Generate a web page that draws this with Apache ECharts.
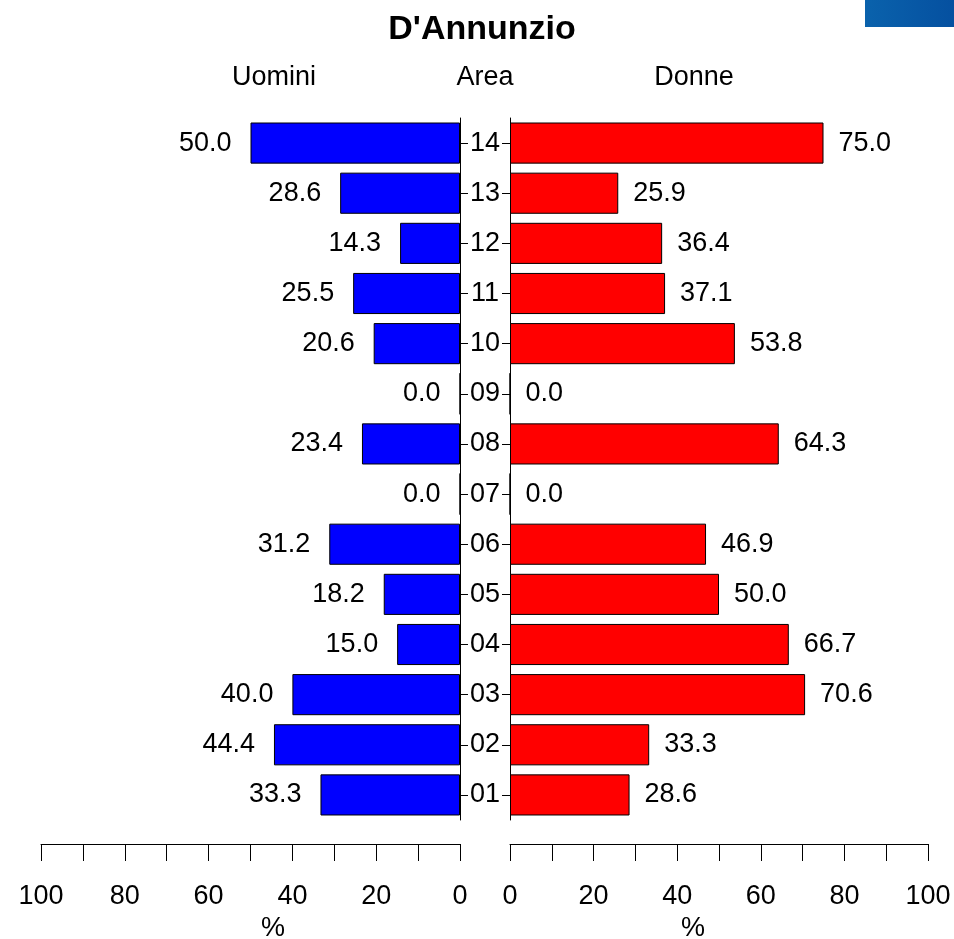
<!DOCTYPE html>
<html>
<head>
<meta charset="utf-8">
<script src="https://cdn.jsdelivr.net/npm/echarts@6/dist/echarts.min.js"></script>
<style>html,body{margin:0;padding:0;background:#fff;}#c{width:954px;height:939px;}</style>
</head>
<body>
<div id="c"></div>
<script>
const areas = ['01','02','03','04','05','06','07','08','09','10','11','12','13','14'];
const uomini = [33.3, 44.4, 40.0, 15.0, 18.2, 31.2, 0.0, 23.4, 0.0, 20.6, 25.5, 14.3, 28.6, 50.0];
const donne  = [28.6, 33.3, 70.6, 66.7, 50.0, 46.9, 0.0, 64.3, 0.0, 53.8, 37.1, 36.4, 25.9, 75.0];
const axisTicks = [0, 20, 40, 60, 80, 100];

const FONT = "'Liberation Sans', Arial, sans-serif";
const FS = 27;
const chart = echarts.init(document.getElementById('c'), null, {renderer: 'canvas'});

function xAx(gridIndex, inverse) {
  return {
    type: 'value', gridIndex, inverse, min: 0, max: 100, interval: 10,
    position: 'bottom', offset: 24,
    splitLine: {show: false},
    axisLine: {show: true, lineStyle: {color: '#000', width: 1}},
    axisTick: {show: true, length: 17, lineStyle: {color: '#000', width: 1}},
    axisLabel: {
      show: true, margin: 39, color: '#000', fontFamily: FONT, fontSize: FS,
      formatter: v => axisTicks.indexOf(v) >= 0 ? String(v) : ''
    }
  };
}

const option = {
  animation: false,
  backgroundColor: '#fff',
  grid: [
    {left: 41, width: 419, top: 118, height: 702},
    {left: 510, width: 418, top: 118, height: 702}
  ],
  xAxis: [xAx(0, true), xAx(1, false)],
  yAxis: [
    {
      type: 'category', gridIndex: 0, data: areas, position: 'right',
      axisLine: {show: true, lineStyle: {color: '#000', width: 1}},
      axisTick: {show: true, alignWithLabel: true, length: 8, lineStyle: {color: '#000', width: 1}},
      axisLabel: {show: true, margin: 25, align: 'center', color: '#000', fontFamily: FONT, fontSize: FS}
    },
    {
      type: 'category', gridIndex: 1, data: areas, position: 'left',
      axisLine: {show: true, lineStyle: {color: '#000', width: 1}},
      axisTick: {show: true, alignWithLabel: true, length: 8, lineStyle: {color: '#000', width: 1}},
      axisLabel: {show: false}
    }
  ],
  series: [
    {
      type: 'bar', name: 'Uomini', xAxisIndex: 0, yAxisIndex: 0, data: uomini,
      barCategoryGap: '18%',
      itemStyle: {color: '#0000ff', borderColor: '#000', borderWidth: 1},
      label: {show: true, position: 'left', distance: 19, color: '#000', fontFamily: FONT, fontSize: FS,
        formatter: p => Number(p.value).toFixed(1)}
    },
    {
      type: 'bar', name: 'Donne', xAxisIndex: 1, yAxisIndex: 1, data: donne,
      barCategoryGap: '18%',
      itemStyle: {color: '#ff0000', borderColor: '#000', borderWidth: 1},
      label: {show: true, position: 'right', distance: 15, color: '#000', fontFamily: FONT, fontSize: FS,
        formatter: p => Number(p.value).toFixed(1)}
    }
  ],
  graphic: [
    {type: 'rect', left: 865, top: 0, shape: {width: 89, height: 27},
      style: {fill: new echarts.graphic.LinearGradient(0, 0, 1, 0, [{offset: 0, color: '#0a62ac'}, {offset: 1, color: '#0550a0'}])}},
    {type: 'text', x: 482, y: 30, style: {text: "D'Annunzio", font: "bold 34px " + FONT, fill: '#000', align: 'center', verticalAlign: 'middle'}},
    {type: 'text', x: 274, y: 78, style: {text: 'Uomini', font: FS + 'px ' + FONT, fill: '#000', align: 'center', verticalAlign: 'middle'}},
    {type: 'text', x: 485, y: 78, style: {text: 'Area', font: FS + 'px ' + FONT, fill: '#000', align: 'center', verticalAlign: 'middle'}},
    {type: 'text', x: 694, y: 78, style: {text: 'Donne', font: FS + 'px ' + FONT, fill: '#000', align: 'center', verticalAlign: 'middle'}},
    {type: 'text', x: 273, y: 929, style: {text: '%', font: FS + 'px ' + FONT, fill: '#000', align: 'center', verticalAlign: 'middle'}},
    {type: 'text', x: 693, y: 929, style: {text: '%', font: FS + 'px ' + FONT, fill: '#000', align: 'center', verticalAlign: 'middle'}}
  ]
};
chart.setOption(option);
</script>
</body>
</html>
